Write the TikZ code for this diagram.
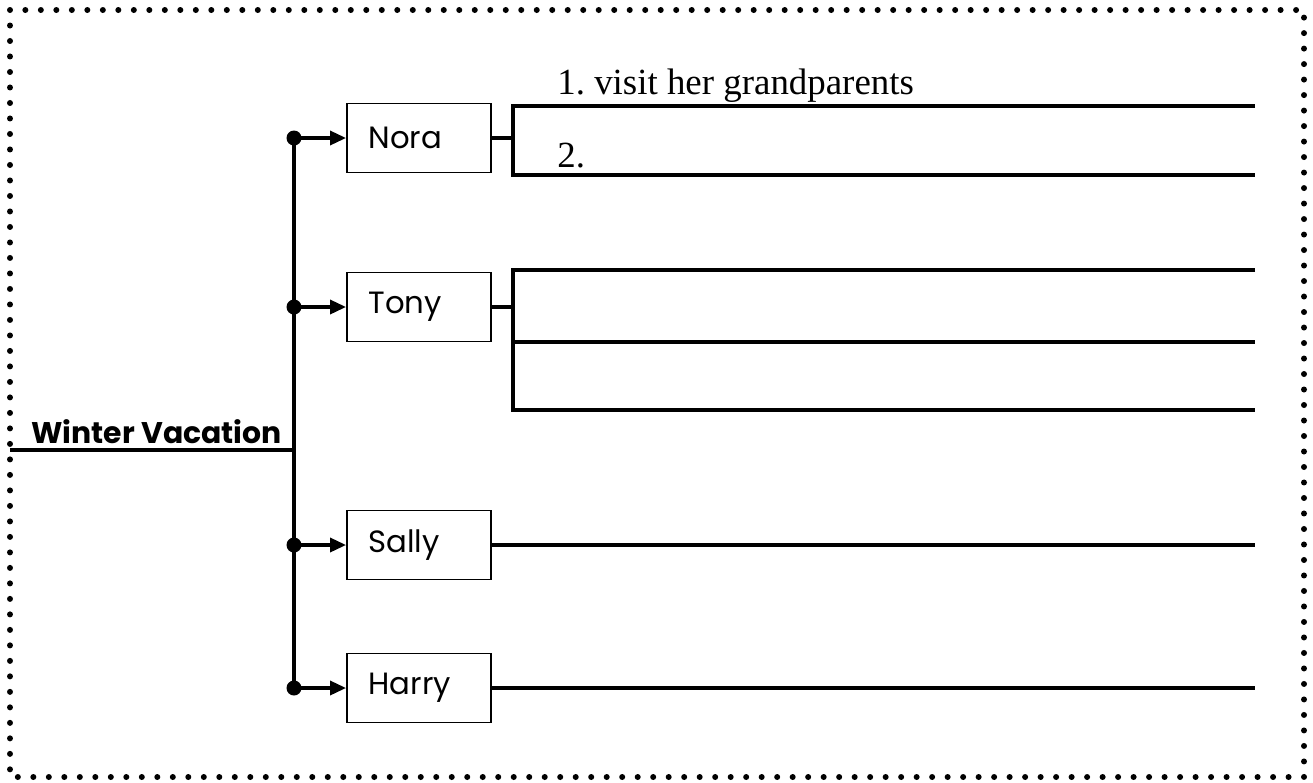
\documentclass[tikz,border=0pt]{standalone}
\usepackage{fontspec}
\setmainfont{Liberation Serif}
\newfontfamily\kidfont{Poppins}
\usetikzlibrary{arrows.meta,positioning}

\begin{document}
\begin{tikzpicture}[x=0.02cm,y=-0.02cm,
		namebox/.style={draw,line width=1.1pt,minimum height=1.38cm,text width=2.02cm,inner xsep=0.43cm,align=left,font=\kidfont\fontsize{17.5}{19}\selectfont},
		heavy/.style={line width=1.9pt},
		heavier/.style={line width=2.3pt},
		branch/.style={heavy,-{Triangle[length=0.32cm,width=0.28cm]}},
		answer/.style={anchor=base west,inner sep=0pt,font=\fontsize{21}{23}\selectfont}]
				\useasboundingbox (0,0) rectangle (1313,782);
				
				% dotted frame
				\draw[line width=0.12cm,line cap=round,dash pattern=on 0pt off 0.31cm] (10,10) rectangle (1304,777);
				
				% trunk
				\coordinate (start) at (10,450);
				\coordinate (root) at (294,450);
				\coordinate (kn) at (294,138);
				\coordinate (kt) at (294,307);
				\coordinate (ks) at (294,545);
				\coordinate (kh) at (294,688);
				\node[anchor=base west,inner sep=0pt,font=\kidfont\bfseries\fontsize{17}{19}\selectfont] (title) at (31,443) {Winter Vacation};
				\draw[heavy] (start) -- (root);
				\draw[heavy] (kn) -- (kh);
				
				% name boxes
				\node[namebox] (nora) at (419,138) {Nora};
				\node[namebox] (tony) at (419,307) {Tony};
				\node[namebox] (sally) at (419,545) {Sally};
				\node[namebox] (harry) at (419,688) {Harry};
				
				\foreach \k/\n in {kn/nora,kt/tony,ks/sally,kh/harry}{
					\fill (\k) circle (0.15cm);
					\draw[branch] (\k) -- (\k -| \n.west);
				}
				
				% answer lines
				\coordinate (nj) at (513,138);
				\coordinate (tj) at (513,307);
				\draw[heavy] (nora.east) -- (nj);
				\draw[heavier] (1255,106) -- (513,106) -- (513,175) -- (1255,175);
				\draw[heavy] (tony.east) -- (tj);
				\draw[heavier] (1255,270) -- (513,270) -- (513,410) -- (1255,410);
				\draw[heavier] (513,342) -- (1255,342);
				\coordinate (se) at (1255,545);
				\coordinate (he) at (1255,688);
				\draw[heavier] (sally.east) -- (se);
				\draw[heavier] (harry.east) -- (he);
				
				\node[answer] (a1) at (557,94) {1.\ visit her grandparents};
				\node[answer] (a2) at (557,167) {2.};
			\end{tikzpicture}
\end{document}
